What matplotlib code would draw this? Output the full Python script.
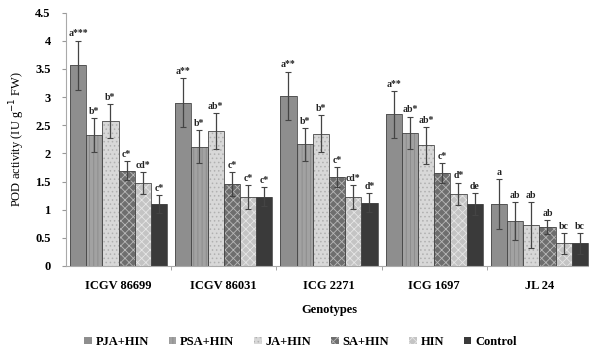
import numpy as np
import matplotlib
matplotlib.use('Agg')
import matplotlib.pyplot as plt
from matplotlib.patches import Patch

# POD activity per genotype and treatment
genotypes = ['ICGV 86699', 'ICGV 86031', 'ICG 2271', 'ICG 1697', 'JL 24']
treatments = ['PJA+HIN', 'PSA+HIN', 'JA+HIN', 'SA+HIN', 'HIN', 'Control']

pja = [3.56, 2.90, 3.02, 2.69, 1.10]
psa = [2.32, 2.12, 2.16, 2.36, 0.80]
ja = [2.57, 2.40, 2.35, 2.14, 0.73]
sa = [1.69, 1.45, 1.58, 1.65, 0.69]
hin = [1.47, 1.23, 1.23, 1.28, 0.40]
control = [1.10, 1.23, 1.12, 1.10, 0.40]

pja_err = [0.44, 0.43, 0.43, 0.41, 0.44]
psa_err = [0.30, 0.29, 0.29, 0.29, 0.34]
ja_err = [0.30, 0.32, 0.33, 0.33, 0.41]
sa_err = [0.17, 0.21, 0.18, 0.18, 0.13]
hin_err = [0.19, 0.21, 0.21, 0.20, 0.18]
control_err = [0.16, 0.17, 0.17, 0.19, 0.18]

pja_lab = ['a***', 'a**', 'a**', 'a**', 'a']
psa_lab = ['b*', 'b*', 'b*', 'ab*', 'ab']
ja_lab = ['b*', 'ab*', 'b*', 'ab*', 'ab']
sa_lab = ['c*', 'c*', 'c*', 'c*', 'ab']
hin_lab = ['cd*', 'c*', 'cd*', 'd*', 'bc']
control_lab = ['c*', 'c*', 'd*', 'de', 'bc']

values = [pja, psa, ja, sa, hin, control]
errors = [pja_err, psa_err, ja_err, sa_err, hin_err, control_err]
letters = [pja_lab, psa_lab, ja_lab, sa_lab, hin_lab, control_lab]

# fill colour, hatch, hatch colour for each treatment
styles = [
    ('#8e8e8e', None, '#8e8e8e'),
    ('#a2a2a2', '||||', '#8a8a8a'),
    ('#d8d8d8', '....', '#b0b0b0'),
    ('#6e6e6e', 'xxxx', '#b8b8b8'),
    ('#c4c4c4', 'xxxx', '#e6e6e6'),
    ('#3a3a3a', None, '#3a3a3a'),
]

plt.rcParams['font.family'] = ['Liberation Serif', 'DejaVu Serif']
plt.rcParams['hatch.linewidth'] = 0.6

fig = plt.figure(figsize=(5.89, 3.58), dpi=100)
ax = fig.add_axes([0.112, 0.257, 0.893, 0.708])

x = np.arange(len(genotypes))
w = 0.154
for i, (vals, errs, labs) in enumerate(zip(values, errors, letters)):
    pos = x + (i - 2.5) * w
    fc, hatch, hc = styles[i]
    ax.bar(pos, vals, w, color=fc, hatch=hatch, edgecolor=hc, linewidth=0, zorder=2)
    ax.bar(pos, vals, w, fill=False, edgecolor='#4a4a4a', linewidth=0.6, zorder=3)
    ax.errorbar(pos, vals, yerr=errs, fmt='none', ecolor='#444444',
                elinewidth=0.9, capsize=2, capthick=0.8, zorder=4)
    for p, v, e, t in zip(pos, vals, errs, labs):
        ax.text(p, v + e + 0.04, t, ha='center', va='bottom', fontsize=7,
                fontweight='bold', color='#222222', zorder=5)

ax.set_xlim(-0.5, 4.5)
ax.set_ylim(0, 4.5)
ax.set_yticks(np.arange(0, 4.51, 0.5))
ax.set_yticklabels(['0', '0.5', '1', '1.5', '2', '2.5', '3', '3.5', '4', '4.5'],
                   fontsize=9, fontweight='bold')
ax.set_xticks(x)
ax.set_xticklabels(genotypes, fontsize=9, fontweight='bold')
ax.set_xticks(np.arange(0.5, 4.5, 1), minor=True)
ax.tick_params(axis='x', which='major', length=0, pad=10)
ax.tick_params(axis='x', which='minor', length=3, color='#999999')
ax.tick_params(axis='y', length=3, color='#999999', pad=8)

for side in ['top', 'right']:
    ax.spines[side].set_visible(False)
ax.spines['left'].set_color('#aaaaaa')
ax.spines['bottom'].set_color('#aaaaaa')

ax.set_ylabel('POD activity (IU g$^{-1}$ FW)', fontsize=9, labelpad=6)
ax.set_xlabel('Genotypes', fontsize=9, fontweight='bold', labelpad=9)

handles = [Patch(facecolor=s[0], hatch=s[1], edgecolor=s[2], linewidth=0)
           for s in styles]
fig.legend(handles, treatments, loc='center', bbox_to_anchor=(0.51, 0.045),
           ncol=6, frameon=False, handlelength=0.6, handleheight=0.6,
           handletextpad=0.3, columnspacing=1.6, prop={'weight': 'bold', 'size': 9})

fig.savefig('out.png', dpi=100)
